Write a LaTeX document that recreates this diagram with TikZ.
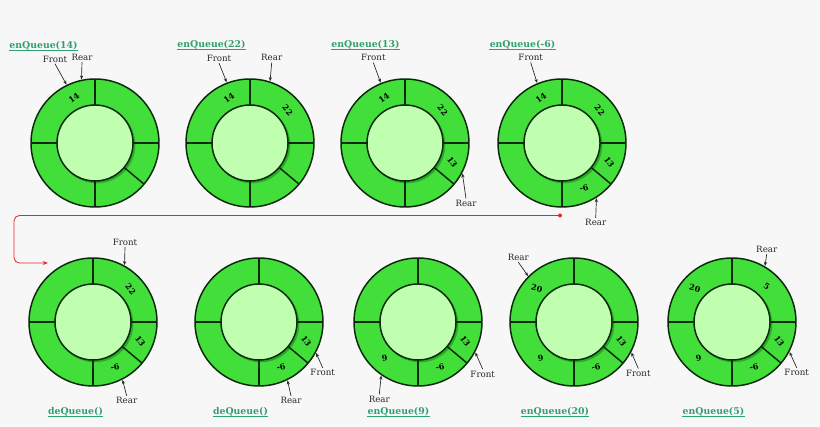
\documentclass[tikz,border=0pt]{standalone}
\usepackage{fontspec}
\setmainfont{DejaVu Serif}
\usetikzlibrary{calc,arrows.meta}
\definecolor{bgc}{RGB}{247,247,247}
\definecolor{ringc}{RGB}{66,222,58}
\definecolor{innerc}{RGB}{192,255,176}
\definecolor{shadc}{RGB}{40,170,40}
\definecolor{lblc}{RGB}{48,160,112}
\definecolor{edgec}{RGB}{10,40,10}
\definecolor{redc}{RGB}{225,40,40}
\tikzset{
  ringfill/.style={fill=ringc,draw=edgec,line width=1.1pt},
  innerfill/.style={fill=innerc,draw=edgec,line width=1.1pt},
  segline/.style={draw=edgec,line width=1.1pt},
  num/.style={font=\bfseries\fontsize{6}{7}\selectfont,inner sep=0pt},
  ptr/.style={font=\fontsize{6.5}{7.5}\selectfont,inner sep=1pt,text=black!85},
  ptrline/.style={draw=black!85,line width=0.5pt,-{Stealth[length=3pt,width=2.4pt]}},
  oplabel/.style={font=\bfseries\fontsize{7}{8}\selectfont,text=lblc,inner sep=0pt},
  ulline/.style={draw=lblc,line width=0.5pt},
  redline/.style={draw=redc,line width=0.6pt,rounded corners=4pt,-{Stealth[length=4pt,width=3pt]}}
}
\newcommand\qring[2]{%
  \coordinate (#1) at (#2);
  \path[ringfill] (#1) circle (64);
  \fill[shadc] ($(#1)+(1.8,-1.8)$) circle (38.5);
  \foreach \a in {90,180,0,270,-40} \draw[segline] ($(#1)+(\a:37)$) -- ($(#1)+(\a:64)$);
  \path[innerfill] (#1) circle (38);
}
\newcommand\oplbl[3]{%
  \node[oplabel] (#1) at (#2) {#3};
  \draw[ulline] ($(#1.base west)+(0,-1.3)$) -- ($(#1.base east)+(0,-1.3)$);
}
\begin{document}
\begin{tikzpicture}[x=0.75pt,y=0.75pt]
\fill[bgc] (0,0) rectangle (820,427);
\useasboundingbox (0,0) rectangle (820,427);
% rings
\qring{c1}{95,284}
\qring{c2}{250,284}
\qring{c3}{405,284}
\qring{c4}{562,284}
\qring{b1}{93,105}
\qring{b2}{259,105}
\qring{b3}{418,105}
\qring{b4}{574,105}
\qring{b5}{732,105}
% numbers
\node[num,rotate=35] at ($(c1)+(115:50)$) {14};
\node[num,rotate=35] at ($(c2)+(115:50)$) {14};
\node[num,rotate=-50] at ($(c2)+(41:50)$) {22};
\node[num,rotate=35] at ($(c3)+(115:50)$) {14};
\node[num,rotate=-50] at ($(c3)+(41:50)$) {22};
\node[num,rotate=-55] at ($(c3)+(-22:51)$) {13};
\node[num,rotate=35] at ($(c4)+(115:50)$) {14};
\node[num,rotate=-50] at ($(c4)+(41:50)$) {22};
\node[num,rotate=-55] at ($(c4)+(-22:51)$) {13};
\node[num,rotate=15] at ($(c4)+(-64:50)$) {-6};
\node[num,rotate=-50] at ($(b1)+(41:50)$) {22};
\node[num,rotate=-55] at ($(b1)+(-22:51)$) {13};
\node[num,rotate=15] at ($(b1)+(-64:50)$) {-6};
\node[num,rotate=-55] at ($(b2)+(-22:51)$) {13};
\node[num,rotate=15] at ($(b2)+(-64:50)$) {-6};
\node[num,rotate=-55] at ($(b3)+(-22:51)$) {13};
\node[num,rotate=15] at ($(b3)+(-64:50)$) {-6};
\node[num,rotate=10] at ($(b3)+(-133:49)$) {9};
\node[num,rotate=-15] at ($(b4)+(138:50)$) {20};
\node[num,rotate=-55] at ($(b4)+(-22:51)$) {13};
\node[num,rotate=15] at ($(b4)+(-64:50)$) {-6};
\node[num,rotate=10] at ($(b4)+(-133:49)$) {9};
\node[num,rotate=-15] at ($(b5)+(138:50)$) {20};
\node[num,rotate=-30] at ($(b5)+(46:50)$) {5};
\node[num,rotate=-55] at ($(b5)+(-22:51)$) {13};
\node[num,rotate=15] at ($(b5)+(-64:50)$) {-6};
\node[num,rotate=10] at ($(b5)+(-133:49)$) {9};
% operation labels
\oplbl{l1}{43.5,381}{enQueue(14)}
\oplbl{l2}{211.5,382}{enQueue(22)}
\oplbl{l3}{365.5,382}{enQueue(13)}
\oplbl{l4}{522.5,382}{enQueue(-6)}
\oplbl{l5}{75.5,15}{deQueue()}
\oplbl{l6}{240.5,15}{deQueue()}
\oplbl{l7}{398.5,15}{enQueue(9)}
\oplbl{l8}{555,15}{enQueue(20)}
\oplbl{l9}{713.5,15}{enQueue(5)}
% pointers
\node[ptr] (c1f) at (55,368) {Front};
\node[ptr] (c1r) at (82,370) {Rear};
\draw[ptrline] (c1f.south) -- ($(c1)+(116:65)$);
\draw[ptrline] (c1r.south) -- ($(c1)+(102:65)$);
\node[ptr] (c2f) at (219,368.7) {Front};
\node[ptr] (c2r) at (271.7,369.3) {Rear};
\draw[ptrline] (c2f.south) -- ($(c2)+(111:65)$);
\draw[ptrline] (c2r.south) -- ($(c2)+(72:65)$);
\node[ptr] (c3f) at (373.3,369.3) {Front};
\node[ptr] (c3r) at (466,223.7) {Rear};
\draw[ptrline] (c3f.south) -- ($(c3)+(112:65)$);
\draw[ptrline] (c3r.north) -- ($(c3)+(-28:65)$);
\node[ptr] (c4f) at (530.7,369.3) {Front};
\node[ptr] (c4r) at (595.7,204.3) {Rear};
\draw[ptrline] (c4f.south) -- ($(c4)+(112.5:65)$);
\draw[ptrline] (c4r.north) -- ($(c4)+(-58:65)$);
\node[ptr] (b1f) at (125,184.7) {Front};
\node[ptr] (b1r) at (126.7,26.3) {Rear};
\draw[ptrline] (b1f.south) -- ($(b1)+(61:65)$);
\draw[ptrline] (b1r.north) -- ($(b1)+(-63:65)$);
\node[ptr] (b2f) at (322.7,54.3) {Front};
\node[ptr] (b2r) at (291,26.3) {Rear};
\draw[ptrline] (b2f.north) -- ($(b2)+(-28.5:65)$);
\draw[ptrline] (b2r.north) -- ($(b2)+(-64:65)$);
\node[ptr] (b3f) at (482.7,53) {Front};
\node[ptr] (b3r) at (379.3,27.7) {Rear};
\draw[ptrline] (b3f.north) -- ($(b3)+(-28:65)$);
\draw[ptrline] (b3r.north) -- ($(b3)+(-124.5:65)$);
\node[ptr] (b4f) at (638.3,53.7) {Front};
\node[ptr] (b4r) at (518.3,169.7) {Rear};
\draw[ptrline] (b4f.north) -- ($(b4)+(-28:65)$);
\draw[ptrline] (b4r.south) -- ($(b4)+(135:65)$);
\node[ptr] (b5f) at (796.7,54.3) {Front};
\node[ptr] (b5r) at (766.7,177.7) {Rear};
\draw[ptrline] (b5f.north) -- ($(b5)+(-27.6:65)$);
\draw[ptrline] (b5r.south) -- ($(b5)+(59.5:65)$);
% red connector
\coordinate (rs) at (560,211.5);
\coordinate (rc1) at (14,211.5);
\coordinate (rc2) at (14,164);
\coordinate (re) at (48,164);
\fill[redc] (rs) circle (2);
\draw[redline] (rs) -- (rc1) -- (rc2) -- (re);
\end{tikzpicture}
\end{document}
